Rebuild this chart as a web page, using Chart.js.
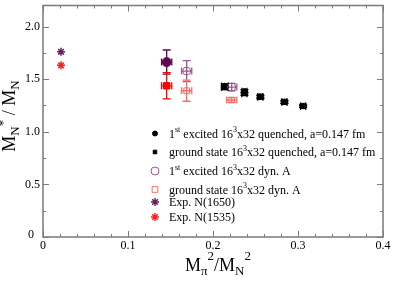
<!DOCTYPE html>
<html>
<head>
<meta charset="utf-8">
<script src="https://cdn.jsdelivr.net/npm/chart.js@4.4.1/dist/chart.umd.min.js"></script>
<style>
  body { margin: 0; background: #fff; }
  #wrap { width: 393px; height: 281px; position: relative; }
</style>
</head>
<body>
<div id="wrap"><canvas id="c"></canvas></div>
<script>
// quenched 16^3x32, a=0.147 fm
const qX = [0.214, 0.237, 0.2557, 0.284, 0.306];
const qExcY = [1.435, 1.385, 1.335, 1.285, 1.245];
const qExcYErr = [0.02, 0.015, 0.014, 0.012, 0.01];
const qGndY = [1.42, 1.362, 1.327, 1.28, 1.242];
const qGndYErr = [0.02, 0.015, 0.014, 0.012, 0.01];
const qXErr = [0.004, 0.003, 0.003, 0.003, 0.003];

// dynamical A
const dynX = [0.169, 0.222];
const dynXErr = [0.006, 0.006];
const dynExcY = [1.577, 1.425];
const dynExcYErr = [0.1, 0.035];
const dynGndY = [1.39, 1.302];
const dynGndYErr = [0.1, 0.022];

// extra filled points
const fillX = [0.1455];
const fillXErr = [0.006];
const fillExcY = [1.662];
const fillExcYErr = [0.115];
const fillGndY = [1.437];
const fillGndYErr = [0.125];

// experiment
const expX = [0.0212];
const exp1650Y = [1.76];
const exp1535Y = [1.632];

const xTicks = [0, 0.1, 0.2, 0.3, 0.4];
const xTickLabels = ['0', '0.1', '0.2', '0.3', '0.4'];
const yTicks = [0, 0.5, 1.0, 1.5, 2.0];
const yTickLabels = ['0', '0.5', '1.0', '1.5', '2.0'];

const SERIF = '"Liberation Serif", "DejaVu Serif", serif';
const FRAME = '#7a7a7a';

function pts(xs, ys) {
  return xs.map((x, i) => ({ x: x, y: ys[i] }));
}

const datasets = [
  { label: 'fillExc', data: pts(fillX, fillExcY), xErr: fillXErr, yErr: fillExcYErr,
    pointStyle: 'circle', pointRadius: 4.5, backgroundColor: '#5c0b4c', borderColor: '#5c0b4c', errColor: '#5c0b4c' },
  { label: 'fillGnd', data: pts(fillX, fillGndY), xErr: fillXErr, yErr: fillGndYErr,
    pointStyle: 'rect', pointRadius: 4.5, backgroundColor: '#ff0000', borderColor: '#ff0000', errColor: '#ff0000' },
  { label: 'dynExc', data: pts(dynX, dynExcY), xErr: dynXErr, yErr: dynExcYErr,
    pointStyle: 'circle', pointRadius: 4, backgroundColor: 'rgba(0,0,0,0)', borderColor: '#9c5890', errColor: '#9c5890', borderWidth: 1 },
  { label: 'dynGnd', data: pts(dynX, dynGndY), xErr: dynXErr, yErr: dynGndYErr,
    pointStyle: 'rect', pointRadius: 4, backgroundColor: 'rgba(0,0,0,0)', borderColor: '#ff6a6a', errColor: '#ff6a6a', borderWidth: 1 },
  { label: 'qGnd', data: pts(qX, qGndY), xErr: qXErr, yErr: qGndYErr,
    pointStyle: 'rect', pointRadius: 3, backgroundColor: '#000', borderColor: '#000', errColor: '#000' },
  { label: 'qExc', data: pts(qX, qExcY), xErr: qXErr, yErr: qExcYErr,
    pointStyle: 'circle', pointRadius: 2.8, backgroundColor: '#000', borderColor: '#000', errColor: '#000' },
  { label: 'exp1650', data: pts(expX, exp1650Y),
    pointStyle: 'star', pointRadius: 4, backgroundColor: '#6a1f60', borderColor: '#6a1f60', borderWidth: 1.5 },
  { label: 'exp1535', data: pts(expX, exp1535Y),
    pointStyle: 'star', pointRadius: 4, backgroundColor: '#ff2020', borderColor: '#ff2020', borderWidth: 1.5 }
];

// draw text made of pieces: [text, 'n' | 'sup' | 'sub']
function richWidth(ctx, parts, size, scale) {
  let w = 0;
  parts.forEach(p => {
    ctx.font = (p[1] === 'n' ? size : Math.round(size * scale)) + 'px ' + SERIF;
    w += ctx.measureText(p[0]).width;
  });
  return w;
}
function drawRich(ctx, x, y, parts, size, scale, supUp, subDown) {
  ctx.textBaseline = 'alphabetic';
  ctx.textAlign = 'left';
  parts.forEach(p => {
    let dy = 0;
    if (p[1] === 'n') ctx.font = size + 'px ' + SERIF;
    else {
      ctx.font = Math.round(size * scale) + 'px ' + SERIF;
      dy = p[1] === 'sup' ? -supUp : subDown;
    }
    ctx.fillText(p[0], x, y + dy);
    x += ctx.measureText(p[0]).width;
  });
}

const legendRows = [
  { style: 'circle', r: 2.5, fill: '#000', stroke: '#000',
    parts: [['1', 'n'], ['st', 'sup'], [' excited 16', 'n'], ['3', 'sup'], ['x32 quenched, a=0.147 fm', 'n']] },
  { style: 'rect', r: 2.5, fill: '#000', stroke: '#000',
    parts: [['ground state 16', 'n'], ['3', 'sup'], ['x32 quenched, a=0.147 fm', 'n']] },
  { style: 'circle', r: 4, fill: 'rgba(0,0,0,0)', stroke: '#9c5890',
    parts: [['1', 'n'], ['st', 'sup'], [' excited 16', 'n'], ['3', 'sup'], ['x32 dyn. A', 'n']] },
  { style: 'rect', r: 4, fill: 'rgba(0,0,0,0)', stroke: '#ff6a6a',
    parts: [['ground state 16', 'n'], ['3', 'sup'], ['x32 dyn. A', 'n']] },
  { style: 'star', r: 4, fill: '#6a1f60', stroke: '#6a1f60', parts: [['Exp. N(1650)', 'n']] },
  { style: 'star', r: 4, fill: '#ff2020', stroke: '#ff2020', parts: [['Exp. N(1535)', 'n']] }
];
const legendY = [133.5, 152, 171, 189.5, 202, 217];

const errBars = {
  id: 'errBars',
  beforeDatasetsDraw(chart) {
    const ctx = chart.ctx, xs = chart.scales.x, ys = chart.scales.y;
    ctx.save();
    ctx.lineWidth = 1.3;
    chart.data.datasets.forEach(ds => {
      if (!ds.yErr) return;
      ctx.strokeStyle = ds.errColor;
      ds.data.forEach((d, i) => {
        const px = xs.getPixelForValue(d.x), py = ys.getPixelForValue(d.y);
        const y1 = ys.getPixelForValue(d.y + ds.yErr[i]), y2 = ys.getPixelForValue(d.y - ds.yErr[i]);
        const x1 = xs.getPixelForValue(d.x - ds.xErr[i]), x2 = xs.getPixelForValue(d.x + ds.xErr[i]);
        ctx.beginPath();
        ctx.moveTo(px, y1); ctx.lineTo(px, y2);
        ctx.moveTo(px - 4, y1); ctx.lineTo(px + 4, y1);
        ctx.moveTo(px - 4, y2); ctx.lineTo(px + 4, y2);
        ctx.moveTo(x1, py); ctx.lineTo(x2, py);
        ctx.moveTo(x1, py - 3.5); ctx.lineTo(x1, py + 3.5);
        ctx.moveTo(x2, py - 3.5); ctx.lineTo(x2, py + 3.5);
        ctx.stroke();
      });
    });
    ctx.restore();
  }
};

const frame = {
  id: 'frame',
  afterDraw(chart) {
    const ctx = chart.ctx, a = chart.chartArea, xs = chart.scales.x, ys = chart.scales.y;
    ctx.save();
    ctx.strokeStyle = FRAME;
    ctx.lineWidth = 1.5;
    ctx.strokeRect(a.left, a.top, a.right - a.left, a.bottom - a.top);
    ctx.lineWidth = 1;
    ctx.beginPath();
    // x ticks, inward on bottom and top
    for (let v = 0; v <= 0.4001; v += 0.02) {
      const px = Math.round(xs.getPixelForValue(v)) + 0.5;
      const major = Math.abs(v * 10 - Math.round(v * 10)) < 1e-6;
      const len = major ? 6 : 3;
      ctx.moveTo(px, a.bottom); ctx.lineTo(px, a.bottom - len);
      ctx.moveTo(px, a.top); ctx.lineTo(px, a.top + len);
    }
    for (let v = 0; v <= 2.2001; v += 0.25) {
      const py = Math.round(ys.getPixelForValue(v)) + 0.5;
      const major = Math.abs(v * 2 - Math.round(v * 2)) < 1e-6;
      const len = major ? 6 : 3;
      ctx.moveTo(a.left, py); ctx.lineTo(a.left + len, py);
      ctx.moveTo(a.right, py); ctx.lineTo(a.right - len, py);
    }
    ctx.stroke();

    // tick labels
    ctx.fillStyle = '#000';
    ctx.font = '12px ' + SERIF;
    ctx.textAlign = 'center';
    ctx.textBaseline = 'top';
    xTicks.forEach((v, i) => {
      ctx.fillText(xTickLabels[i], xs.getPixelForValue(v), a.bottom + 3);
    });
    ctx.textAlign = 'right';
    ctx.textBaseline = 'middle';
    yTicks.forEach((v, i) => {
      const zero = v === 0;
      ctx.fillText(yTickLabels[i], a.left - (zero ? 9 : 3), ys.getPixelForValue(v) + (zero ? -2 : 0));
    });

    // axis titles
    const xtParts = [['M', 'n'], ['π', 'sub'], ['2', 'sup'], ['/M', 'n'], ['N', 'sub'], ['2', 'sup']];
    drawRich(ctx, 218 - richWidth(ctx, xtParts, 18, 0.7) / 2, 271, xtParts, 18, 0.7, 11, 4);

    const ytParts = [['M', 'n'], ['N', 'sub'], ['*', 'sup'], [' / M', 'n'], ['N', 'sub']];
    ctx.save();
    ctx.translate(15, 116);
    ctx.rotate(-Math.PI / 2);
    drawRich(ctx, -richWidth(ctx, ytParts, 18, 0.7) / 2, 0, ytParts, 18, 0.7, 8, 4);
    ctx.restore();

    // legend
    legendRows.forEach((row, i) => {
      const y = legendY[i];
      ctx.fillStyle = row.fill;
      ctx.strokeStyle = row.stroke;
      ctx.lineWidth = row.style === 'star' ? 1.5 : 1;
      Chart.helpers.drawPoint(ctx, { pointStyle: row.style, radius: row.r, rotation: 0, borderWidth: ctx.lineWidth }, 155, y);
      ctx.fillStyle = '#000';
      drawRich(ctx, 169, y + 4, row.parts, 12, 0.65, 5.5, 3);
    });
    ctx.restore();
  }
};

new Chart(document.getElementById('c'), {
  type: 'scatter',
  data: { datasets: datasets },
  options: {
    responsive: true,
    maintainAspectRatio: false,
    animation: false,
    layout: { padding: { left: 43, right: 10, top: 1, bottom: 44 } },
    plugins: { legend: { display: false }, tooltip: { enabled: false } },
    scales: {
      x: { type: 'linear', min: 0, max: 0.4, display: false },
      y: { type: 'linear', min: 0, max: 2.2, display: false }
    }
  },
  plugins: [errBars, frame]
});
</script>
</body>
</html>
